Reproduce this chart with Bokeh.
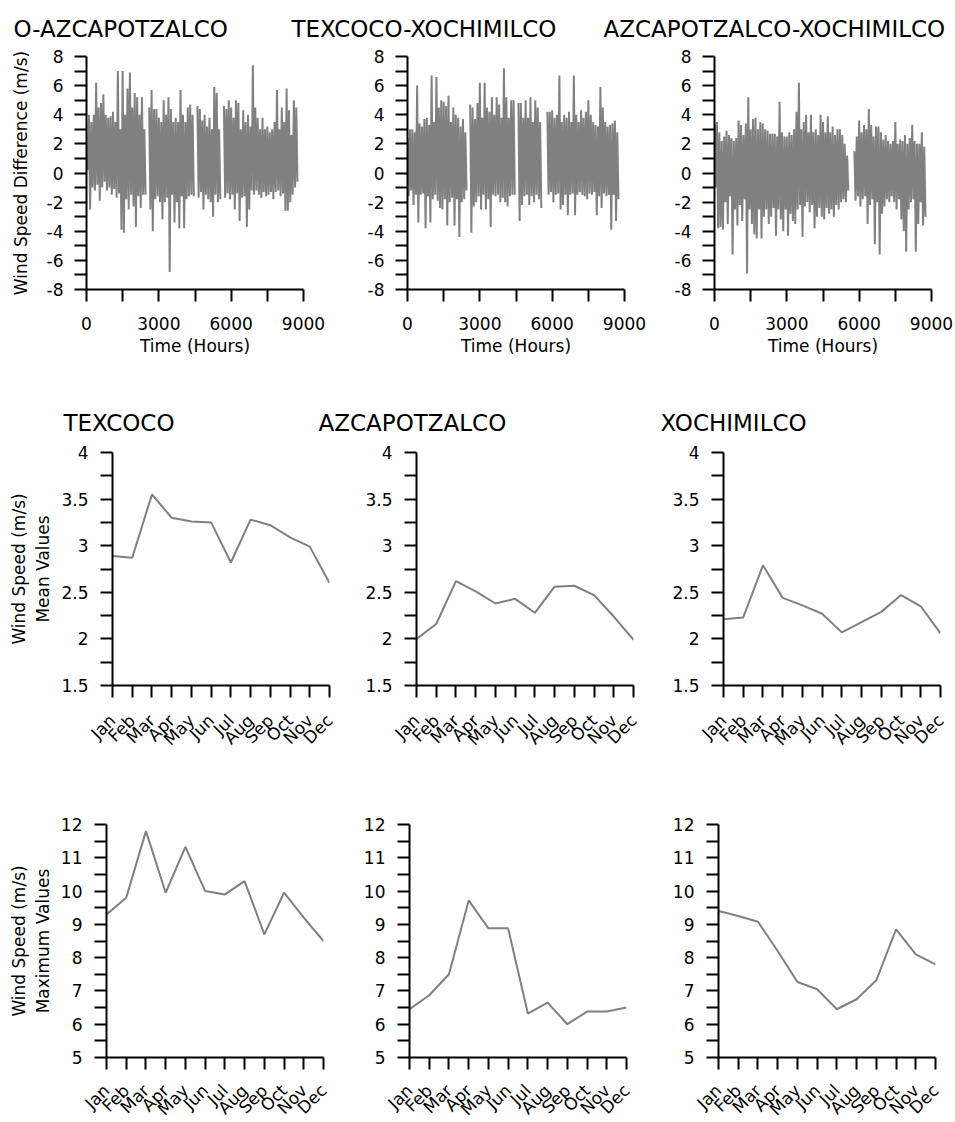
import math
import numpy as np
from bokeh.plotting import figure
from bokeh.models import Range1d, FixedTicker, Label, ColumnDataSource, NumeralTickFormatter
from bokeh.layouts import column, row
from bokeh.embed import file_html
from bokeh.resources import INLINE

# ---------------- data ----------------
MONTHS = ["Jan", "Feb", "Mar", "Apr", "May", "Jun", "Jul", "Aug", "Sep", "Oct", "Nov", "Dec"]

mean_texcoco = [2.89, 2.87, 3.55, 3.30, 3.26, 3.25, 2.82, 3.28, 3.22, 3.09, 2.99, 2.60]
mean_azcapotzalco = [2.00, 2.16, 2.62, 2.51, 2.38, 2.43, 2.28, 2.56, 2.57, 2.47, 2.24, 1.99]
mean_xochimilco = [2.21, 2.23, 2.79, 2.44, 2.36, 2.27, 2.07, 2.18, 2.29, 2.47, 2.35, 2.06]

max_texcoco = [9.30, 9.80, 11.80, 9.95, 11.33, 10.00, 9.90, 10.30, 8.70, 9.95, 9.20, 8.50]
max_azcapotzalco = [6.45, 6.87, 7.50, 9.72, 8.88, 8.88, 6.32, 6.65, 6.00, 6.38, 6.38, 6.50]
max_xochimilco = [9.40, 9.25, 9.08, 8.20, 7.27, 7.05, 6.45, 6.75, 7.32, 8.85, 8.10, 7.80]

# hourly differences, read as high / low extremes of each 100-hour block (None = missing data)
BLOCK_HOURS = 100

diff_hi_tex_azc = [1.0, 4.0, 3.5, 4.0, 6.2, 4.5, 4.8, 5.4, 4.0, 3.8,
                   3.9, 4.2, 3.5, 7.0, 3.0, 7.0, 4.0, 5.8, 6.9, 4.5,
                   5.5, 5.2, 4.0, 5.2, 3.0, None, 4.5, 5.7, 4.4, 4.4,
                   3.8, 3.5, 5.0, 4.0, 5.2, 4.4, 3.5, 3.8, 3.5, 5.7,
                   4.0, 3.5, 4.5, 4.7, 4.0, None, 4.6, 4.4, 3.6, 4.0,
                   3.2, 3.8, 3.0, 5.9, 5.5, 3.0, None, 4.6, 4.4, 5.0,
                   4.5, 3.8, 5.0, 4.8, 3.0, 4.3, 3.5, 4.0, 3.2, 7.4,
                   4.5, 3.8, 3.0, 3.8, 3.0, 3.2, 2.8, 3.0, 3.5, 5.7,
                   3.0, 4.5, 3.5, 5.8, 4.3, 2.6, 5.0, 4.5]
diff_lo_tex_azc = [0.2, -2.5, -1.0, -1.2, -0.8, -1.9, -1.0, -0.6, -1.2, -1.0,
                   -1.5, -1.1, -1.7, -1.4, -3.9, -4.1, -1.8, -2.5, -1.5, -2.3,
                   -3.7, -1.6, -2.4, -1.5, -1.5, None, -2.5, -4.0, -1.8, -1.6,
                   -2.0, -3.2, -2.0, -1.7, -6.8, -1.5, -3.4, -2.0, -3.8, -1.6,
                   -3.8, -1.8, -1.6, -1.5, -1.6, None, -1.7, -1.3, -2.5, -1.5,
                   -1.8, -2.0, -3.0, -1.5, -2.0, -1.8, None, -1.7, -1.4, -1.8,
                   -1.5, -2.5, -1.4, -3.3, -1.7, -1.6, -3.7, -2.5, -1.2, -1.5,
                   -1.2, -1.5, -1.7, -1.3, -1.6, -1.5, -1.3, -1.8, -1.3, -1.2,
                   -1.6, -1.4, -2.6, -2.6, -2.0, -1.5, -1.0, -0.6]

diff_hi_tex_xoc = [2.4, 3.0, 3.0, 2.8, 6.0, 3.4, 3.2, 3.7, 3.8, 3.3,
                   6.7, 3.5, 6.6, 4.5, 5.0, 4.9, 4.6, 5.3, 3.5, 4.5,
                   4.0, 3.8, 3.2, 3.7, 2.8, None, 4.7, 4.5, 3.7, 4.8,
                   6.2, 3.8, 6.2, 4.5, 4.2, 5.2, 4.0, 5.2, 4.7, 3.8,
                   7.2, 5.2, 3.8, 5.0, 5.0, None, 4.8, 4.8, 3.8, 5.0,
                   3.8, 5.2, 3.5, 5.0, 4.5, 3.5, None, None, 4.2, 4.2,
                   4.3, 3.8, 4.0, 6.7, 3.5, 4.0, 3.8, 4.2, 3.5, 6.7,
                   4.0, 3.5, 4.3, 3.8, 4.2, 5.0, 4.0, 3.5, 3.3, 3.2,
                   5.9, 4.5, 3.5, 3.2, 3.3, 3.4, 3.6, 2.8]
diff_lo_tex_xoc = [-1.6, -1.2, -2.2, -1.5, -3.4, -1.5, -1.4, -3.8, -1.6, -3.4,
                   -1.8, -1.5, -1.9, -2.4, -2.5, -1.8, -3.6, -2.0, -1.7, -3.6,
                   -1.8, -4.4, -2.0, -1.8, -1.2, None, -4.1, -2.3, -2.0, -1.6,
                   -2.5, -1.5, -2.5, -1.8, -3.7, -1.5, -1.6, -1.5, -2.0, -1.7,
                   -2.0, -2.3, -1.6, -1.5, -1.5, None, -3.3, -2.2, -1.6, -1.5,
                   -2.2, -1.6, -2.0, -1.5, -1.8, -2.4, None, None, -1.5, -1.3,
                   -2.0, -1.5, -1.4, -2.5, -2.2, -1.5, -2.9, -1.5, -1.4, -2.9,
                   -1.5, -1.3, -1.5, -1.6, -1.8, -1.4, -1.5, -1.3, -2.9, -1.6,
                   -2.4, -1.4, -1.6, -1.5, -3.9, -1.5, -3.3, -1.8]

diff_hi_azc_xoc = [3.4, 3.5, 2.8, 2.2, 2.5, 2.9, 2.6, 2.4, 2.2, 2.4,
                   3.6, 3.3, 2.6, 3.4, 5.2, 3.0, 3.7, 3.8, 3.0, 3.5,
                   3.4, 3.0, 2.9, 2.7, 2.7, 2.7, 2.5, 4.9, 2.8, 2.5,
                   2.5, 2.8, 2.6, 3.0, 4.2, 6.2, 3.0, 3.5, 4.0, 2.8,
                   4.0, 2.8, 3.0, 2.6, 4.0, 3.5, 2.8, 3.9, 2.8, 3.2,
                   2.6, 3.0, 3.0, 2.6, 2.0, 1.2, None, None, 1.5, 2.5,
                   3.6, 2.8, 3.3, 3.0, 4.4, 3.3, 2.5, 3.2, 3.2, 2.8,
                   2.3, 2.6, 2.2, 2.0, 2.2, 3.5, 2.0, 2.3, 2.2, 2.6,
                   2.0, 2.4, 3.3, 2.2, 2.0, 2.0, 2.8, 1.8]
diff_lo_azc_xoc = [-1.0, -3.8, -3.7, -3.9, -2.0, -3.5, -1.6, -5.6, -2.5, -3.6,
                   -2.2, -3.3, -1.8, -6.9, -2.5, -3.5, -4.2, -4.5, -2.5, -4.5,
                   -3.0, -2.5, -3.5, -3.0, -2.4, -4.3, -2.5, -3.2, -4.0, -2.5,
                   -4.3, -2.8, -3.3, -3.5, -2.5, -2.2, -4.4, -2.3, -2.0, -2.7,
                   -2.2, -3.8, -3.0, -2.4, -3.0, -3.2, -2.4, -2.8, -2.5, -3.0,
                   -2.2, -2.5, -2.0, -1.8, -2.0, -1.2, None, None, -1.9, -1.6,
                   -2.3, -1.8, -1.6, -3.5, -2.2, -1.8, -4.9, -2.0, -5.6, -2.8,
                   -2.3, -1.8, -2.0, -1.6, -2.0, -2.5, -1.8, -3.2, -4.0, -5.4,
                   -2.5, -2.0, -1.8, -5.4, -3.5, -2.0, -3.6, -3.0]

TOP_TITLES = ["O-AZCAPOTZALCO", "TEXCOCO-XOCHIMILCO", "AZCAPOTZALCO-XOCHIMILCO"]
MID_TITLES = ["TEXCOCO", "AZCAPOTZALCO", "XOCHIMILCO"]

# ---------------- styling ----------------
FONT = "DejaVu Sans"
LINE_COLOR = "#808080"
FW, FH = 217, 233


def diff_source(hi, lo):
    xs, ys = [], []
    for i, (h, l) in enumerate(zip(hi, lo)):
        t = i * BLOCK_HOURS
        if h is None:
            xs.append(t + BLOCK_HOURS / 2)
            ys.append(np.nan)
        else:
            xs += [t, t + BLOCK_HOURS / 2]
            ys += [h, l]
    return ColumnDataSource(dict(x=np.array(xs, dtype=float), y=np.array(ys, dtype=float)))


def style_axis(ax, label_standoff):
    ax.axis_line_width = 2
    ax.axis_line_color = "black"
    ax.major_tick_line_width = 2
    ax.minor_tick_line_width = 2
    ax.major_tick_in = 0
    ax.minor_tick_in = 0
    ax.major_tick_out = 12
    ax.minor_tick_out = 12
    ax.major_label_text_font = FONT
    ax.major_label_text_font_size = "17px"
    ax.major_label_text_color = "black"
    ax.major_label_standoff = label_standoff
    ax.axis_label_text_font = FONT
    ax.axis_label_text_font_size = "17px"
    ax.axis_label_text_font_style = "normal"
    ax.axis_label_text_color = "black"


def base_fig(left, right, top, bottom, xr, yr):
    p = figure(frame_width=FW, frame_height=FH,
               min_border_left=left, min_border_right=right,
               min_border_top=top, min_border_bottom=bottom,
               x_range=xr, y_range=yr, output_backend="svg",
               toolbar_location=None, tools="")
    p.grid.visible = False
    p.outline_line_color = None
    p.background_fill_color = "white"
    p.border_fill_color = "white"
    return p


def diff_fig(hi, lo, left, right, ylabel=None):
    p = base_fig(left, right, 16, 96, Range1d(0, 9000), Range1d(-8, 8))
    p.line("x", "y", source=diff_source(hi, lo), line_color=LINE_COLOR, line_width=2)
    p.xaxis.ticker = FixedTicker(ticks=[0, 3000, 6000, 9000], minor_ticks=[1500, 4500, 7500])
    p.yaxis.ticker = FixedTicker(ticks=list(range(-8, 9, 2)), minor_ticks=list(range(-7, 8, 2)))
    p.xaxis.formatter = NumeralTickFormatter(format="0")
    p.yaxis.formatter = NumeralTickFormatter(format="0")
    style_axis(p.xaxis[0], 15)
    style_axis(p.yaxis[0], 11)
    p.xaxis.axis_label = "Time (Hours)"
    p.xaxis.axis_label_standoff = 3
    if ylabel:
        p.yaxis.axis_label = ylabel
        p.yaxis.axis_label_standoff = 13
    return p


def month_fig(vals, left, right, top, bottom, yr, yticks, yminor, ylabel=None, xstandoff=20):
    p = base_fig(left, right, top, bottom, Range1d(0, 11), yr)
    p.line(list(range(len(MONTHS))), vals, line_color=LINE_COLOR, line_width=2)
    p.xaxis.ticker = FixedTicker(ticks=list(range(len(MONTHS))), minor_ticks=[])
    p.xaxis.major_label_overrides = {i: m for i, m in enumerate(MONTHS)}
    p.xaxis.major_label_orientation = math.pi / 4
    p.yaxis.ticker = FixedTicker(ticks=yticks, minor_ticks=yminor)
    p.yaxis.formatter = NumeralTickFormatter(format="0.[0]")
    style_axis(p.xaxis[0], xstandoff)
    style_axis(p.yaxis[0], 12)
    if ylabel:
        p.yaxis.axis_label = ylabel
        p.yaxis.axis_label_standoff = 5
    return p


def title_strip(height, titles, xs, baseline):
    p = figure(width=955, height=height, x_range=Range1d(0, 955), y_range=Range1d(height, 0),
               min_border=0, x_axis_location=None, y_axis_location=None,
               output_backend="svg", toolbar_location=None, tools="")
    p.grid.visible = False
    p.outline_line_color = None
    for t, x in zip(titles, xs):
        p.add_layout(Label(x=x, y=baseline, text=t, text_font=FONT, text_font_size="23px",
                           text_color="black", text_align="left", text_baseline="alphabetic"))
    return p


# ---------------- row 1 ----------------
t1 = title_strip(40, TOP_TITLES, [13, 291, 603], 28)
r1 = row(
    diff_fig(diff_hi_tex_azc, diff_lo_tex_azc, 86, 37, "Wind Speed Difference (m/s)"),
    diff_fig(diff_hi_tex_xoc, diff_lo_tex_xoc, 67, 26),
    diff_fig(diff_hi_azc_xoc, diff_lo_azc_xoc, 64, 24),
)

# ---------------- row 2 ----------------
t2 = title_strip(55, MID_TITLES, [63, 318, 660], 37)
mt = [1.5, 2, 2.5, 3, 3.5, 4]
mm = [1.75, 2.25, 2.75, 3.25, 3.75]
r2 = row(
    month_fig(mean_texcoco, 112, 11, 12, 90, Range1d(1.5, 4), mt, mm, "Wind Speed (m/s)\nMean Values"),
    month_fig(mean_azcapotzalco, 76, 17, 12, 90, Range1d(1.5, 4), mt, mm),
    month_fig(mean_xochimilco, 73, 15, 12, 90, Range1d(1.5, 4), mt, mm),
)

# ---------------- row 3 ----------------
xt = list(range(5, 13))
xm = [5.5, 6.5, 7.5, 8.5, 9.5, 10.5, 11.5]
r3 = row(
    month_fig(max_texcoco, 106, 17, 49, 65, Range1d(5, 12), xt, xm, "Wind Speed (m/s)\nMaximum Values", xstandoff=18),
    month_fig(max_azcapotzalco, 69, 24, 49, 65, Range1d(5, 12), xt, xm, xstandoff=18),
    month_fig(max_xochimilco, 68, 20, 49, 65, Range1d(5, 12), xt, xm, xstandoff=18),
)

layout = column(t1, r1, t2, r2, r3, spacing=0)
open("out.html", "w").write(file_html(layout, INLINE))
